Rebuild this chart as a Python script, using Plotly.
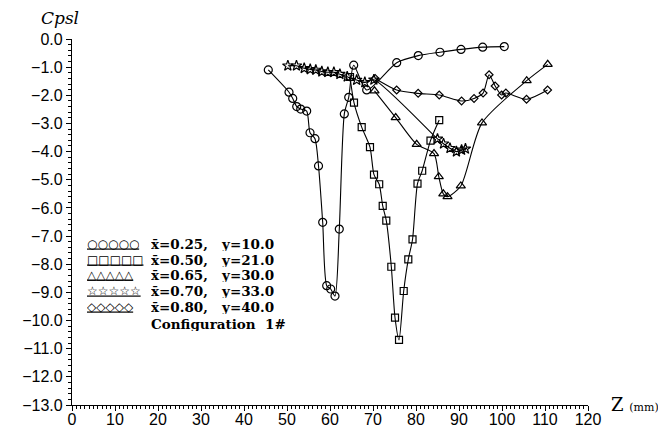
import plotly.graph_objects as go

# ---- data (Z in mm, Cpsl) ----
z_025 = [45.65, 50.47, 51.33, 52.26, 53.19, 54.58, 55.35, 56.51, 57.33, 58.30, 59.23, 60.16, 61.16,
         62.16, 63.33, 64.35, 65.51, 68.53, 75.51, 80.53, 85.58, 90.47, 95.51, 100.53]
c_025 = [-1.10, -1.89, -2.11, -2.40, -2.49, -2.56, -3.33, -3.54, -4.51, -6.51, -8.76, -8.88, -9.13,
         -6.75, -2.66, -2.07, -0.93, -1.81, -0.84, -0.59, -0.47, -0.37, -0.29, -0.27]

z_050 = [64.65, 65.58, 67.37, 69.30, 70.23, 71.44, 72.26, 73.09, 74.26, 75.12, 76.05, 77.14, 78.21,
         79.19, 80.35, 81.44, 83.37, 85.40]
c_050 = [-1.35, -2.26, -3.13, -3.84, -4.82, -5.16, -5.93, -6.45, -8.09, -9.90, -10.69, -8.95, -7.83,
         -7.12, -5.14, -4.68, -3.61, -2.88]

z_065 = [70.35, 75.28, 80.16, 84.19, 85.30, 86.35, 87.33, 90.42, 95.35, 105.74, 110.63]
c_065 = [-1.84, -2.79, -3.74, -4.07, -4.89, -5.50, -5.60, -5.22, -2.98, -1.48, -0.90]

z_070 = [50.2, 52.2, 54.0, 55.4, 56.7, 58.1, 59.5, 60.9, 62.3, 64.0, 66.2, 68.1, 70.2,
         85.0, 86.4, 87.9, 89.4, 90.6, 91.5]
c_070 = [-0.95, -0.95, -1.04, -1.08, -1.10, -1.16, -1.18, -1.18, -1.25, -1.34, -1.46, -1.54, -1.45,
         -3.55, -3.72, -3.88, -4.00, -3.94, -3.90]

z_080 = [70.5, 75.5, 80.5, 85.4, 90.6, 93.5, 95.6, 97.0, 98.4, 99.9, 100.9, 105.7, 110.6]
c_080 = [-1.40, -1.81, -1.93, -1.99, -2.20, -2.11, -1.92, -1.27, -1.67, -1.99, -1.92, -2.14, -1.81]

labels = ["x̄=0.25,   y=10.0", "x̄=0.50,   y=21.0", "x̄=0.65,   y=30.0",
          "x̄=0.70,   y=33.0", "x̄=0.80,   y=40.0"]
legend_glyphs = ["○", "□", "△", "☆", "◇"]
legend_note = "Configuration  1#"

series = [
    (z_025, c_025, "circle-open", 8),
    (z_050, c_050, "square-open", 7),
    (z_065, c_065, "triangle-up-open", 8),
    (z_070, c_070, "star-open", 8),
    (z_080, c_080, "diamond-open", 6),
]

fig = go.Figure()
for (zx, cy, sym, sz), lab in zip(series, labels):
    fig.add_trace(go.Scatter(
        x=zx, y=cy, name=lab, mode="lines+markers", showlegend=False,
        line=dict(color="black", width=1.1, shape="spline", smoothing=0.7),
        marker=dict(symbol=sym, size=sz, color="black", line=dict(width=1.2, color="black")),
    ))

serif = "DejaVu Serif"
sans = "Liberation Sans"

annotations = [
    dict(text="<i>Cpsl</i>", xref="paper", yref="paper", x=-0.064, y=1.0, yshift=21,
         xanchor="left", yanchor="middle", showarrow=False,
         font=dict(family=serif, size=17, color="black")),
    dict(text="Z <span style='font-size:11px'>(mm)</span>", xref="paper", yref="paper",
         x=1.04, y=0.0, yshift=1, xanchor="left", yanchor="middle", showarrow=False,
         font=dict(family=serif, size=18, color="black")),
]

# legend block (manual, lower-left inside the plot)
row_y = [0.4426, 0.3989, 0.3552, 0.3115, 0.2678]
for g, lab, yy in zip(legend_glyphs, labels, row_y):
    annotations.append(dict(text="<u>" + g * 5 + "</u>", xref="paper", yref="paper",
                            x=0.028, y=yy, xanchor="left", yanchor="middle", showarrow=False,
                            height=15, borderpad=0,
                            font=dict(family="DejaVu Sans", size=12, color="black")))
    annotations.append(dict(text="<b>" + lab + "</b>", xref="paper", yref="paper",
                            x=0.152, y=yy, xanchor="left", yanchor="middle", showarrow=False,
                            height=15, borderpad=0,
                            font=dict(family=serif, size=13.5, color="black")))
annotations.append(dict(text="<b>" + legend_note + "</b>", xref="paper", yref="paper",
                        x=0.152, y=0.2240, xanchor="left", yanchor="middle", showarrow=False,
                        height=15, borderpad=0,
                        font=dict(family=serif, size=13.5, color="black")))

fig.update_layout(
    width=666, height=428,
    margin=dict(l=64, r=86, t=31, b=31),
    paper_bgcolor="white", plot_bgcolor="white",
    showlegend=False,
    xaxis=dict(range=[0, 120], tickmode="linear", tick0=0, dtick=10, automargin=False,
               showgrid=False, zeroline=False, showline=True, linecolor="black", linewidth=1.2,
               ticks="outside", ticklen=5, tickwidth=1, tickcolor="black", ticklabelstandoff=-5,
               minor=dict(dtick=1, ticks="outside", ticklen=3, tickcolor="black", tickwidth=1),
               tickfont=dict(family=sans, size=16, color="black")),
    yaxis=dict(range=[-13, 0], tickmode="linear", tick0=0, dtick=1, tickformat=".1f",
               automargin=False,
               showgrid=False, zeroline=False, showline=True, linecolor="black", linewidth=1.2,
               ticks="outside", ticklen=5, tickwidth=1, tickcolor="black",
               minor=dict(dtick=0.2, ticks="outside", ticklen=3, tickcolor="black", tickwidth=1),
               tickfont=dict(family=sans, size=16, color="black")),
    annotations=annotations,
)

fig.write_html("out.html")
